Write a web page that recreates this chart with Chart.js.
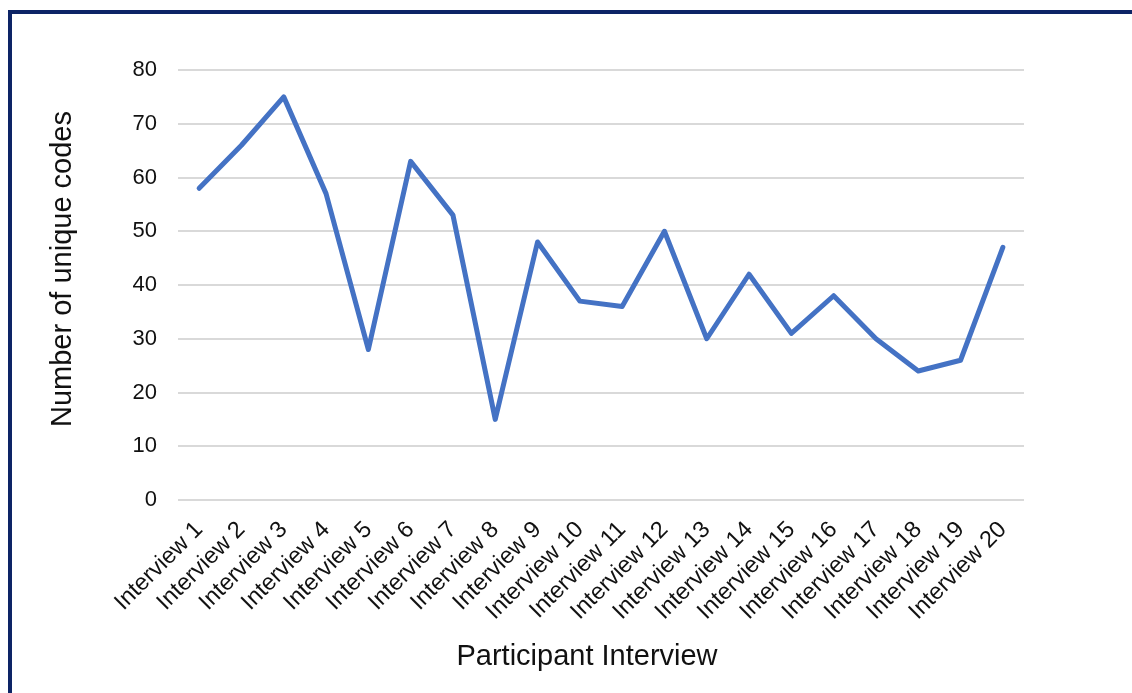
<!DOCTYPE html>
<html>
<head>
<meta charset="utf-8">
<title>Number of unique codes per participant interview</title>
<script src="https://cdn.jsdelivr.net/npm/chart.js@4.4.1/dist/chart.umd.min.js"></script>
<style>
  html, body { margin: 0; padding: 0; background: #ffffff; }
  #wrap { position: relative; width: 1132px; height: 693px; overflow: hidden; background: #ffffff; }
  #frame {
    position: absolute; left: 8px; top: 10px; right: -20px; bottom: -20px;
    border-top: 4px solid #0d2466; border-left: 4px solid #0d2466;
  }
  canvas { position: absolute; left: 0; top: 0; }
</style>
</head>
<body>
<div id="wrap">
  <div id="frame"></div>
  <canvas id="chart" width="1132" height="693"></canvas>
</div>
<script>
// Categories: one entry per participant interview
const interviews = [
  'Interview 1', 'Interview 2', 'Interview 3', 'Interview 4', 'Interview 5',
  'Interview 6', 'Interview 7', 'Interview 8', 'Interview 9', 'Interview 10',
  'Interview 11', 'Interview 12', 'Interview 13', 'Interview 14', 'Interview 15',
  'Interview 16', 'Interview 17', 'Interview 18', 'Interview 19', 'Interview 20'
];

// Number of unique codes found in each interview
const uniqueCodes = [58, 66, 75, 57, 28, 63, 53, 15, 48, 37, 36, 50, 30, 42, 31, 38, 30, 24, 26, 47];

// Value axis range and tick spacing
const yMin = 0;
const yMax = 80;
const yStep = 10;

const xTitle = 'Participant Interview';
const yTitle = 'Number of unique codes';

const FONT = "'Liberation Sans', Arial, sans-serif";
const TEXT = '#111111';

// Axis titles, placed the way the office-style chart centres them
const axisTitles = {
  id: 'axisTitles',
  afterDraw(chart) {
    const { ctx } = chart;
    ctx.save();
    ctx.fillStyle = TEXT;
    ctx.font = `29px ${FONT}`;
    ctx.textAlign = 'center';
    ctx.textBaseline = 'middle';
    ctx.fillText(xTitle, 587, 657);
    ctx.translate(63, 269);
    ctx.rotate(-Math.PI / 2);
    ctx.fillText(yTitle, 0, 0);
    ctx.restore();
  }
};

new Chart(document.getElementById('chart'), {
  type: 'line',
  data: {
    labels: interviews,
    datasets: [{
      label: yTitle,
      data: uniqueCodes,
      borderColor: '#4472c4',
      backgroundColor: '#4472c4',
      borderWidth: 5,
      borderJoinStyle: 'round',
      borderCapStyle: 'round',
      pointRadius: 0,
      pointHoverRadius: 0,
      tension: 0,
      fill: false
    }]
  },
  options: {
    responsive: false,
    animation: false,
    devicePixelRatio: 1,
    layout: { padding: { left: 46, top: 70, right: 108, bottom: 19 } },
    plugins: {
      legend: { display: false },
      tooltip: { enabled: false }
    },
    scales: {
      x: {
        type: 'category',
        offset: true,
        grid: { display: false, drawTicks: false },
        border: { display: false },
        ticks: {
          autoSkip: false,
          minRotation: 45,
          maxRotation: 45,
          padding: 16,
          color: TEXT,
          font: { family: FONT, size: 23.5 }
        },
        afterFit: (scale) => { scale.height = 174; }
      },
      y: {
        min: yMin,
        max: yMax,
        grid: { color: '#d9d9d9', lineWidth: 2, drawTicks: false },
        border: { display: false },
        ticks: {
          stepSize: yStep,
          padding: 21,
          color: TEXT,
          font: { family: FONT, size: 22 }
        },
        afterFit: (scale) => { scale.width = 132; }
      }
    }
  },
  plugins: [axisTitles]
});
</script>
</body>
</html>
